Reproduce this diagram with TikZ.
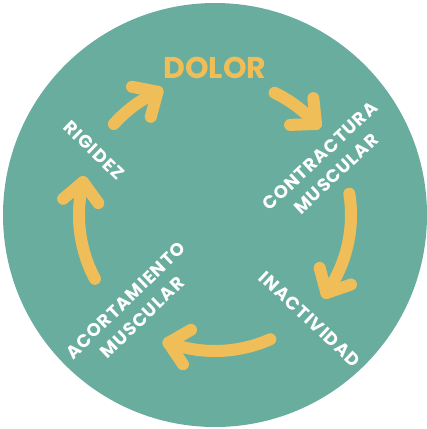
\documentclass[tikz,border=0pt]{standalone}
\usepackage{fontspec}
\setmainfont{Poppins}
\newfontfamily\cycleFont{Poppins}[LetterSpace=6]
\definecolor{circleTeal}{RGB}{104,173,158}
\definecolor{arrowYellow}{RGB}{240,190,88}
\begin{document}
\begin{tikzpicture}[x=1pt,y=1pt,
    cycleArrow/.style={draw=arrowYellow,line width=12pt,line cap=round,line join=round},
    cycleLabel/.style={text=white,font=\cycleFont\bfseries\fontsize{18}{24}\selectfont,align=center,inner sep=0pt}]
  %% Conveniant macros for adjusting size later
  \pgfmathsetmacro{\circleRadius}{212}
  \pgfmathsetmacro{\arcRadius}{136}
  \pgfmathsetmacro{\armLength}{26}
  \useasboundingbox (-215,-214) rectangle (212,215);
  %% Background disc
  \fill[circleTeal] (0,0) circle (\circleRadius);
  %% Arrows of the cycle
  \foreach \s/\e [count=\i] in {138/115, 64/42, 9/-35, -66/-110, 208/166} {
    \draw[cycleArrow] (\s:\arcRadius) coordinate (tail\i)
      arc[start angle=\s, end angle=\e, radius=\arcRadius] coordinate (tip\i);
    \pgfmathsetmacro{\headDir}{\e - 90 + 7}
    \draw[cycleArrow] (tip\i) ++(\headDir + 137:\armLength) -- (tip\i) -- ++(\headDir + 223:\armLength);
  }
  %% Labels
  \node[text=arrowYellow,font=\bfseries\fontsize{30}{36}\selectfont,inner sep=0pt] (dolor) at (0,147) {DOLOR};
  \node[cycleLabel,rotate=43] (contractura) at (113,50) {CONTRACTURA\\MUSCULAR};
  \node[cycleLabel,rotate=-43] (inactividad) at (95,-104) {INACTIVIDAD};
  \node[cycleLabel,rotate=44] (acortamiento) at (-81,-94) {ACORTAMIENTO\\MUSCULAR};
  \node[cycleLabel,rotate=-44] (rigidez) at (-121,65) {RIGIDEZ};
\end{tikzpicture}
\end{document}
